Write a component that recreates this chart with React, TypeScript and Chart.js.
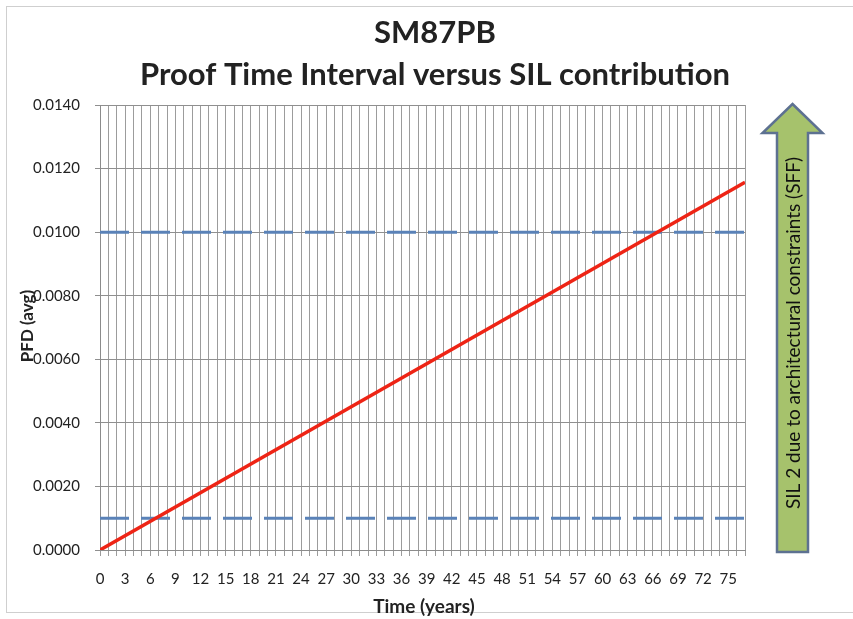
import React, { useEffect, useRef } from "react";
import { Chart, registerables } from "chart.js";

Chart.register(...registerables);

// ---- data ----
const titleLines = ["SM87PB", "Proof Time Interval versus SIL contribution"];
const xAxisTitle = "Time (years)";
const yAxisTitle = "PFD (avg)";
const arrowText = "SIL 2 due to architectural constraints (SFF)";

const years = [0, 77];
const pfdValues = [0, 0.01157];
const silLimitLow = [0.001, 0.001];
const silLimitHigh = [0.01, 0.01];

const xMin = 0;
const xMax = 77;
const xLabelEvery = 3;
const yMin = 0;
const yMax = 0.014;
const yStep = 0.002;

const FONT = "Lato, 'Open Sans', sans-serif";

const decorPlugin = {
  id: "decor",
  beforeDraw(chart: any) {
    const { ctx, width, height } = chart;
    ctx.save();
    ctx.fillStyle = "#ffffff";
    ctx.fillRect(0, 0, width, height);
    ctx.strokeStyle = "#cfcfcf";
    ctx.lineWidth = 1;
    ctx.strokeRect(6.5, 6.5, width + 10, 606);
    ctx.restore();
  },
  afterDraw(chart: any) {
    const { ctx } = chart;
    ctx.save();
    // title
    ctx.fillStyle = "#222222";
    ctx.textAlign = "center";
    ctx.textBaseline = "middle";
    ctx.font = `bold 31px ${FONT}`;
    ctx.fillText(titleLines[0], 435, 33);
    ctx.fillText(titleLines[1], 435, 75);
    // x axis title
    ctx.font = `bold 19px ${FONT}`;
    ctx.fillText(xAxisTitle, 424, 607);
    // y axis title
    ctx.save();
    ctx.translate(28, 326);
    ctx.rotate(-Math.PI / 2);
    ctx.font = `bold 17px ${FONT}`;
    ctx.fillText(yAxisTitle, 0, 0);
    ctx.restore();

    // arrow
    const cx = 792.5;
    const shaftHalf = 15.5;
    const headHalf = 30;
    const tipY = 104;
    const baseY = 133;
    const bottomY = 552;
    ctx.beginPath();
    ctx.moveTo(cx, tipY);
    ctx.lineTo(cx + headHalf, baseY);
    ctx.lineTo(cx + shaftHalf, baseY);
    ctx.lineTo(cx + shaftHalf, bottomY);
    ctx.lineTo(cx - shaftHalf, bottomY);
    ctx.lineTo(cx - shaftHalf, baseY);
    ctx.lineTo(cx - headHalf, baseY);
    ctx.closePath();
    ctx.fillStyle = "#a6c26c";
    ctx.fill();
    ctx.strokeStyle = "#5d7191";
    ctx.lineWidth = 2.5;
    ctx.lineJoin = "miter";
    ctx.stroke();

    ctx.save();
    ctx.translate(cx + 1, 333);
    ctx.rotate(-Math.PI / 2);
    ctx.fillStyle = "#111111";
    ctx.font = `19px ${FONT}`;
    ctx.textAlign = "center";
    ctx.textBaseline = "middle";
    ctx.fillText(arrowText, 0, 0);
    ctx.restore();

    ctx.restore();
  },
};

export default function App() {
  const canvasRef = useRef<HTMLCanvasElement | null>(null);

  useEffect(() => {
    const canvas = canvasRef.current;
    if (!canvas) return;
    const toPoints = (ys: number[]) => years.map((x, i) => ({ x, y: ys[i] }));
    const xEnds = [xMin, xMax];
    const chart = new Chart(canvas, {
      type: "line",
      data: {
        datasets: [
          {
            label: "PFD",
            data: toPoints(pfdValues),
            borderColor: "#ee2415",
            borderWidth: 3.5,
            pointRadius: 0,
            order: 0,
          },
          {
            label: "SIL limit 0.01",
            data: xEnds.map((x, i) => ({ x, y: silLimitHigh[i] })),
            borderColor: "#5a82b8",
            borderWidth: 3,
            borderDash: [29, 12],
            pointRadius: 0,
            order: 1,
          },
          {
            label: "SIL limit 0.001",
            data: xEnds.map((x, i) => ({ x, y: silLimitLow[i] })),
            borderColor: "#5a82b8",
            borderWidth: 3,
            borderDash: [29, 12],
            pointRadius: 0,
            order: 1,
          },
        ],
      },
      options: {
        responsive: false,
        animation: false,
        events: [],
        layout: { padding: { top: 105, right: 108, left: 0, bottom: 0 } },
        plugins: {
          legend: { display: false },
          tooltip: { enabled: false },
          title: { display: false },
        },
        scales: {
          x: {
            type: "linear",
            min: xMin,
            max: xMax,
            afterFit: (s: any) => {
              s.height = 69;
            },
            grid: {
              color: "#9c9c9c",
              lineWidth: 1,
              tickLength: 6,
            },
            border: { color: "#8c8c8c" },
            ticks: {
              stepSize: 1,
              autoSkip: false,
              maxRotation: 0,
              minRotation: 0,
              padding: 14,
              color: "#222222",
              font: { family: FONT, size: 15 },
              callback: (v: any) => (Number(v) % xLabelEvery === 0 ? String(v) : ""),
            },
          },
          y: {
            type: "linear",
            min: yMin,
            max: yMax,
            afterFit: (s: any) => {
              s.width = 100;
            },
            grid: {
              color: "#8f8f8f",
              lineWidth: 1,
              tickLength: 5,
            },
            border: { color: "#8c8c8c" },
            ticks: {
              stepSize: yStep,
              padding: 15,
              color: "#222222",
              font: { family: FONT, size: 15 },
              callback: (v: any) => Number(v).toFixed(4),
            },
          },
        },
      },
      plugins: [decorPlugin],
    });
    return () => chart.destroy();
  }, []);

  return (
    <div style={{ position: "fixed", left: 0, top: 0, width: 853, height: 619 }}>
      <canvas ref={canvasRef} width={853} height={619} style={{ display: "block" }} />
    </div>
  );
}
